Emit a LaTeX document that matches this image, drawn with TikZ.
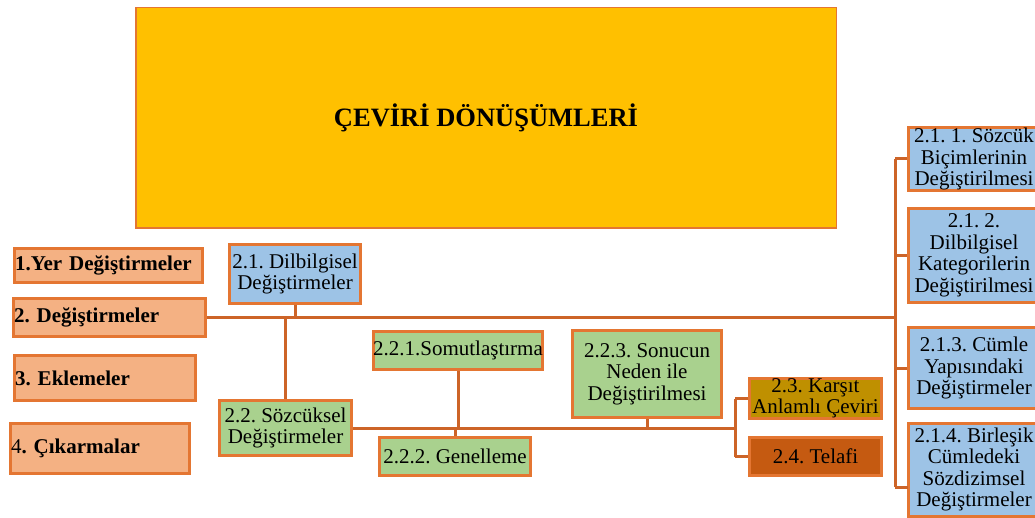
\documentclass[tikz,border=0pt]{standalone}
\usepackage{fontspec}
\setmainfont{Liberation Serif}
\usetikzlibrary{calc}
\frenchspacing
\definecolor{bordercol}{RGB}{228,118,50}
\definecolor{linecol}{RGB}{205,100,40}
\definecolor{titlefill}{RGB}{255,192,0}
\definecolor{salmon}{RGB}{244,177,131}
\definecolor{bluefill}{RGB}{157,195,230}
\definecolor{greenfill}{RGB}{169,209,142}
\definecolor{goldfill}{RGB}{191,144,0}
\definecolor{rustfill}{RGB}{197,90,17}
\tikzset{
  box/.style={draw=bordercol, line width=3pt, rectangle, inner sep=0pt, align=center,
    font=\frenchspacing\fontsize{21}{21.5}\selectfont},
  leftbox/.style={box, fill=salmon, align=left, inner xsep=0.5pt,
    font=\frenchspacing\fontsize{21}{21.5}\selectfont\bfseries},
  conn/.style={draw=linecol, line width=3pt}
}
\begin{document}
\begin{tikzpicture}[x=1pt,y=-1pt]
\useasboundingbox (0,0) rectangle (1035,518);
% title
\node[draw=bordercol, line width=1.5pt, fill=titlefill, minimum width=700.5pt, minimum height=220.5pt, inner sep=0pt,
  font=\fontsize{26.5}{30}\selectfont\bfseries] (main) at (486,118) {ÇEVİRİ DÖNÜŞÜMLERİ};
% left boxes
\node[leftbox, minimum width=188pt, minimum height=34pt, text width=187pt] (yer) at (108.5,265.5) {1.Yer Değiştirmeler};
\node[leftbox, minimum width=192pt, minimum height=38pt, text width=191pt] (deg) at (109.5,317.5) {2. Değiştirmeler};
\node[leftbox, minimum width=181pt, minimum height=45pt, text width=180pt] (ekl) at (105,378) {3. Eklemeler};
\node[leftbox, minimum width=179pt, minimum height=50pt, text width=178pt] (cik) at (100,448.5) {{\mdseries 4}. Çıkarmalar};
% second level
\node[box, fill=bluefill, minimum width=131pt, minimum height=59pt] (d21) at (295,274) {2.1. Dilbilgisel\\Değiştirmeler};
\node[box, fill=greenfill, minimum width=132pt, minimum height=55pt] (s22) at (285.5,428) {2.2. Sözcüksel\\Değiştirmeler};
\node[box, fill=greenfill, minimum width=169pt, minimum height=38pt] (s221) at (458,350.5) {2.2.1.Somutlaştırma};
\node[box, fill=greenfill, minimum width=151pt, minimum height=38pt] (s222) at (455,456.5) {2.2.2. Genelleme};
\node[box, fill=greenfill, minimum width=149pt, minimum height=87pt] (s223) at (647,374) {2.2.3. Sonucun\\Neden ile\\Değiştirilmesi};
\node[box, fill=goldfill, minimum width=132pt, minimum height=40pt] (k23) at (815.5,398.5) {2.3. Karşıt\\Anlamlı Çeviri};
\node[box, fill=rustfill, minimum width=132pt, minimum height=38pt] (t24) at (815.5,456.5) {2.4. Telafi};
% right column
\node[box, fill=bluefill, minimum width=131pt, minimum height=63pt] (b211) at (974,159) {2.1. 1. Sözcük\\Biçimlerinin\\Değiştirilmesi};
\node[box, fill=bluefill, minimum width=131pt, minimum height=94pt] (b212) at (974,255.5) {2.1. 2.\\Dilbilgisel\\Kategorilerin\\Değiştirilmesi};
\node[box, fill=bluefill, minimum width=131pt, minimum height=81pt] (b213) at (974,368) {2.1.3. Cümle\\Yapısındaki\\Değiştirmeler};
\node[box, fill=bluefill, minimum width=131pt, minimum height=93pt] (b214) at (974,469.5) {2.1.4. Birleşik\\Cümledeki\\Sözdizimsel\\Değiştirmeler};
% bus coordinates
\coordinate (busR) at (895,317);
\coordinate (busK) at (735,427);
\coordinate (s214) at (907.5,487);
% connectors
\draw[conn] (deg.east) -- (deg.east -| busR);
\draw[conn] (busR |- b211.west) -- (busR |- s214);
\draw[conn] (busR |- b211.west) -- (b211.west);
\draw[conn] (busR |- b212.west) -- (b212.west);
\draw[conn] (busR |- b213.west) -- (b213.west);
\draw[conn] (busR |- s214) -- (s214);
\draw[conn] (d21.south) -- (d21.south |- deg.east);
\draw[conn] (s22.north) -- (s22.north |- deg.east);
\draw[conn] (s22.east) -- (s22.east -| busK);
\draw[conn] (s221.south) -- (s221.south |- s22.east);
\draw[conn] (s222.north) -- (s222.north |- s22.east);
\draw[conn] (s223.south) -- (s223.south |- s22.east);
\draw[conn] (busK |- k23.west) -- (busK |- t24.west);
\draw[conn] (busK |- k23.west) -- (k23.west);
\draw[conn] (busK |- t24.west) -- (t24.west);
\end{tikzpicture}
\end{document}
